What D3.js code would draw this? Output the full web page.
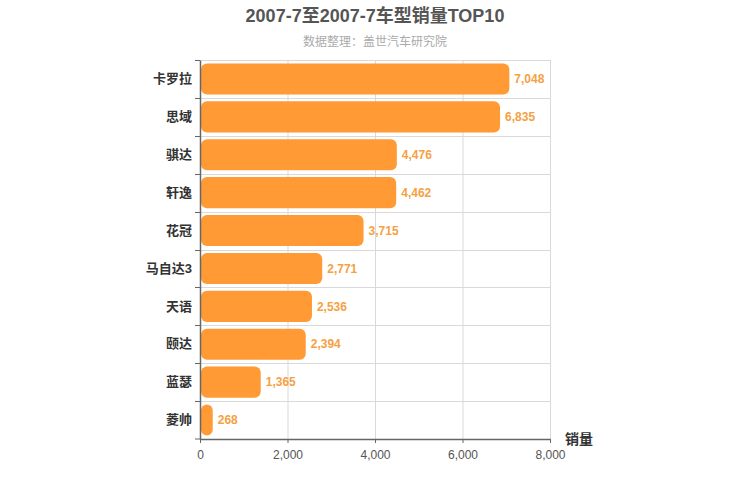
<!DOCTYPE html>
<html>
<head>
<meta charset="utf-8">
<script src="https://cdn.jsdelivr.net/npm/d3@7"></script>
<style>
  body { margin: 0; background: #fff; }
  text { font-family: "Liberation Sans", "Noto Sans CJK SC", sans-serif; }
</style>
</head>
<body>
<svg id="chart"></svg>
<script>
const width = 750;
const height = 500;
const margin = {top: 60, right: 200, bottom: 61, left: 200};

const models = ["卡罗拉", "思域", "骐达", "轩逸", "花冠", "马自达3", "天语", "颐达", "蓝瑟", "菱帅"];
const sales = [7048, 6835, 4476, 4462, 3715, 2771, 2536, 2394, 1365, 268];
const xTicks = [0, 2000, 4000, 6000, 8000];

const data = models.map((m, i) => ({model: m, value: sales[i]}));
const fmt = d3.format(",");

const svg = d3.select("#chart")
    .attr("width", width)
    .attr("height", height);

const x = d3.scaleLinear()
    .domain([0, 8000])
    .range([margin.left, width - margin.right]);

const y = d3.scaleBand()
    .domain(models)
    .range([margin.top, height - margin.bottom])
    .paddingInner(0.18)
    .paddingOuter(0.09);

const yEdge = d3.scaleBand()
    .domain(models)
    .range([margin.top, height - margin.bottom]);

// grid
const grid = svg.append("g").attr("stroke", "#d9d9d9").attr("stroke-width", 1);
grid.selectAll("line.v")
    .data(xTicks.slice(1))
    .join("line")
    .attr("class", "v")
    .attr("x1", d => x(d) + 0.5).attr("x2", d => x(d) + 0.5)
    .attr("y1", margin.top).attr("y2", height - margin.bottom);
grid.selectAll("line.h")
    .data(models)
    .join("line")
    .attr("class", "h")
    .attr("x1", x(0)).attr("x2", x(8000) + 0.5)
    .attr("y1", d => Math.round(yEdge(d)) + 0.5)
    .attr("y2", d => Math.round(yEdge(d)) + 0.5);

// bars
svg.append("g")
    .attr("fill", "#ff9a35")
    .selectAll("rect")
    .data(data)
    .join("rect")
    .attr("x", x(0) + 1)
    .attr("y", d => y(d.model))
    .attr("width", d => x(d.value) - x(0))
    .attr("height", y.bandwidth())
    .attr("rx", 6).attr("ry", 6);

svg.append("g")
    .selectAll("text")
    .data(data)
    .join("text")
    .attr("x", d => x(d.value) + 6)
    .attr("y", d => y(d.model) + y.bandwidth() / 2)
    .attr("dy", "0.35em")
    .attr("fill", "#f5a142")
    .attr("font-size", 12)
    .attr("font-weight", "bold")
    .text(d => fmt(d.value));

// axes
const xAxis = svg.append("g")
    .attr("transform", `translate(0,${height - margin.bottom})`)
    .call(d3.axisBottom(x).tickValues(xTicks).tickFormat(fmt).tickSize(4).tickSizeOuter(0));
xAxis.select(".domain").attr("stroke", "#666").attr("stroke-width", 1.5);
xAxis.selectAll(".tick line").attr("stroke", "#666");
xAxis.selectAll("text").attr("fill", "#555").attr("font-size", 12).attr("dy", "1.1em");

const yAxis = svg.append("g")
    .attr("transform", `translate(${margin.left},0)`)
    .call(d3.axisLeft(yEdge).tickSize(0).tickPadding(8));
yAxis.select(".domain").attr("stroke", "#666").attr("stroke-width", 1.5);
yAxis.selectAll("text").attr("fill", "#333").attr("font-size", 13).attr("font-weight", "bold");

svg.append("g")
    .attr("stroke", "#666")
    .selectAll("line")
    .data(models)
    .join("line")
    .attr("x1", margin.left - 5).attr("x2", margin.left)
    .attr("y1", d => Math.round(yEdge(d)) + 0.5)
    .attr("y2", d => Math.round(yEdge(d)) + 0.5);
svg.append("line")
    .attr("stroke", "#666")
    .attr("x1", margin.left - 5).attr("x2", margin.left)
    .attr("y1", height - margin.bottom).attr("y2", height - margin.bottom);

svg.append("text")
    .attr("x", width - margin.right + 15)
    .attr("y", height - margin.bottom + 5)
    .attr("fill", "#333")
    .attr("font-size", 14)
    .attr("font-weight", "bold")
    .text("销量");

// titles
svg.append("text")
    .attr("x", 375).attr("y", 22)
    .attr("text-anchor", "middle")
    .attr("fill", "#555")
    .attr("font-size", 18)
    .attr("font-weight", "bold")
    .text("2007-7至2007-7车型销量TOP10");

svg.append("text")
    .attr("x", 375).attr("y", 46)
    .attr("text-anchor", "middle")
    .attr("fill", "#aaa")
    .attr("font-size", 12)
    .text("数据整理：盖世汽车研究院");
</script>
</body>
</html>
